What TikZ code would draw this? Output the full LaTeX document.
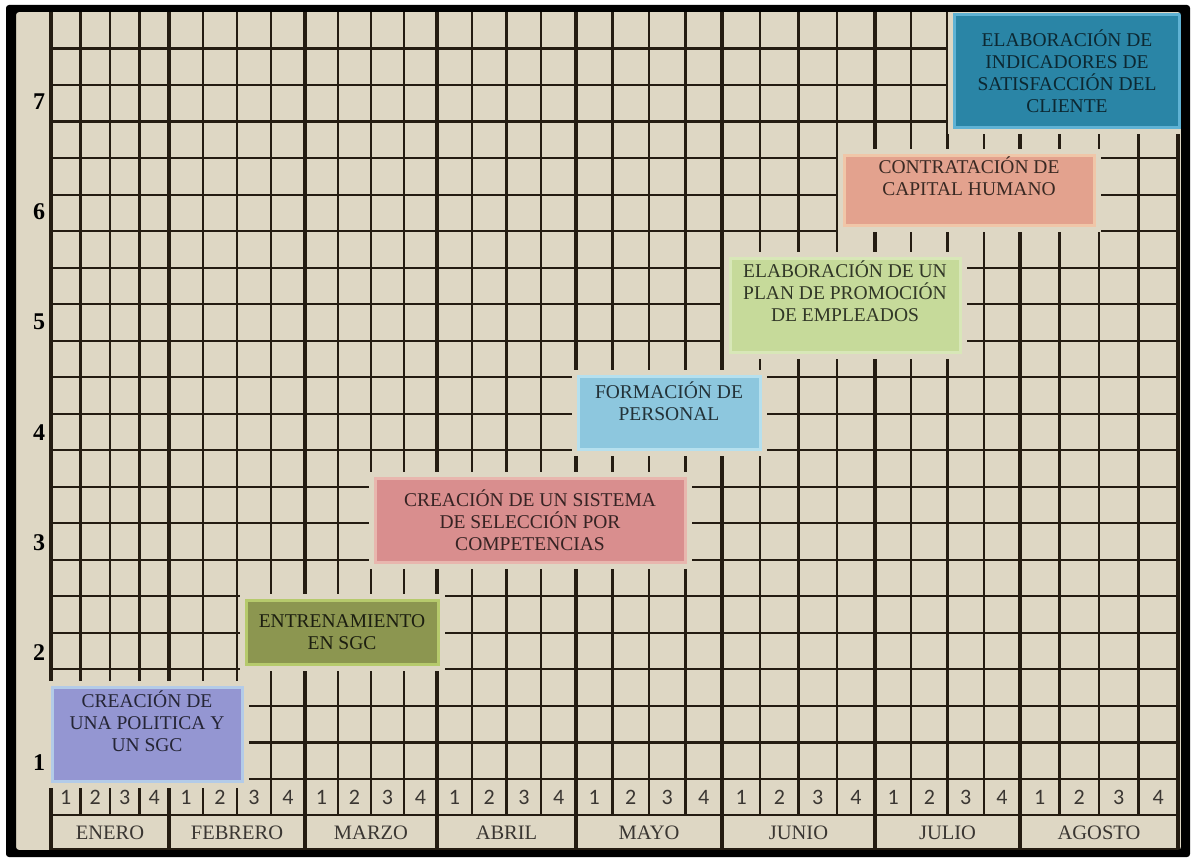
\documentclass[tikz,border=0pt]{standalone}
\usepackage{fontspec}
\setmainfont{Liberation Serif}
\newfontfamily\weekfont{Carlito}
\usepackage{tikz}
\definecolor{Paper}{HTML}{DED7C4}
\definecolor{Ink}{HTML}{241C12}
\definecolor{Digit}{HTML}{3A3632}
\definecolor{Lav}{HTML}{9496D2}
\definecolor{LavEdge}{HTML}{B3CBE8}
\definecolor{Olive}{HTML}{8C9650}
\definecolor{OliveEdge}{HTML}{B6CA6C}
\definecolor{Rose}{HTML}{D98E8E}
\definecolor{RoseEdge}{HTML}{E8B6AE}
\definecolor{Sky}{HTML}{8DC7DE}
\definecolor{SkyEdge}{HTML}{B6E0EE}
\definecolor{Lime}{HTML}{C6DA9A}
\definecolor{LimeEdge}{HTML}{D8E7B8}
\definecolor{Salmon}{HTML}{E3A28E}
\definecolor{SalmonEdge}{HTML}{F0C6A8}
\definecolor{Teal}{HTML}{2A85A6}
\definecolor{TealEdge}{HTML}{5FB2D4}

\begin{document}
\begin{tikzpicture}[x=1pt,y=-1pt,
  rowline/.style={draw=Ink,line width=2.2pt},
  weekline/.style={draw=Ink,line width=2.2pt},
  monthline/.style={draw=Ink,line width=3.4pt},
  task/.style={rectangle,line width=3pt,inner sep=0pt,align=center,
    font=\fontsize{19.5}{22}\selectfont,preaction={draw=Paper,line width=13pt}},
  weeklbl/.style={font=\weekfont\fontsize{22}{22}\selectfont,text=Digit},
  monthlbl/.style={font=\fontsize{20.5}{20.5}\selectfont,text=Digit},
  levellbl/.style={font=\bfseries\fontsize{24}{24}\selectfont}
]
  \useasboundingbox (0,0) rectangle (1193,859);
  \fill[white] (0,0) rectangle (1193,859);
  \fill[Paper] (16,12) rectangle (1181,850);

  % grid
  \foreach \k in {1,...,21}
    \draw[rowline] (51,{12+\k*36.52}) -- (1178,{12+\k*36.52});
  \draw[rowline] (51,815) -- (1178,815);
  \draw[rowline] (51,849) -- (1178,849);
  \foreach \a/\b/\m in {51/169/ENERO,169/305/FEBRERO,305/437/MARZO,437/576/ABRIL,
      576/722/MAYO,722/875/JUNIO,875/1020/JULIO,1020/1178/AGOSTO}{
    \foreach \j in {1,2,3}
      \draw[weekline] ({\a+\j*(\b-\a)/4},12) -- ({\a+\j*(\b-\a)/4},815);
    \foreach \j in {1,...,4}
      \node[weeklbl] (w\m\j) at ({\a+(\j-0.5)*(\b-\a)/4},797) {\j};
    \node[monthlbl] (m\m) at ({(\a+\b)/2},833) {\m};
    \draw[monthline] (\b,12) -- (\b,850);
  }
  \draw[monthline] (51,12) -- (51,850);

  % levels
  \foreach \n in {1,...,7}
    \node[levellbl] (lv\n) at (39,{763-(\n-1)*110.3}) {\n};

  % tasks
  \node[task,fill=Lav,draw=LavEdge,text=black!75!Lav,minimum width=190pt,minimum height=94pt]
    (politica) at (147,734) {CREACIÓN DE\\UNA POLITICA Y\\UN SGC\\[4pt]};
  \node[task,fill=Olive,draw=OliveEdge,text=black!80!Olive,minimum width=192pt,minimum height=64pt]
    (entrenamiento) at (342,632) {ENTRENAMIENTO\\EN SGC};
  \node[task,fill=Rose,draw=RoseEdge,text=black!75!Rose,minimum width=310pt,minimum height=84pt]
    (seleccion) at (530,520) {CREACIÓN DE UN SISTEMA\\DE SELECCIÓN POR\\COMPETENCIAS};
  \node[task,fill=Sky,draw=SkyEdge,text=black!75!Sky,minimum width=182pt,minimum height=73pt]
    (formacion) at (669,413) {FORMACIÓN DE\\PERSONAL\\[2pt]};
  \node[task,fill=Lime,draw=LimeEdge,text=black!75!Lime,minimum width=230pt,minimum height=94pt]
    (promocion) at (845,305) {ELABORACIÓN DE UN\\PLAN DE PROMOCIÓN\\DE EMPLEADOS\\[6pt]};
  \node[task,fill=Salmon,draw=SalmonEdge,text=black!75!Salmon,minimum width=250pt,minimum height=70pt]
    (contratacion) at (969,190) {CONTRATACIÓN DE\\CAPITAL HUMANO\\[6pt]};
  \node[task,fill=Teal,draw=TealEdge,text=black!70!Teal,minimum width=225pt,minimum height=113pt]
    (indicadores) at (1067,71) {ELABORACIÓN DE\\INDICADORES DE\\SATISFACCIÓN DEL\\CLIENTE};

  % frame
  \fill[black,even odd rule,rounded corners=3pt] (6,5) rectangle (1190,857) (16,12) rectangle (1181,850);
\end{tikzpicture}
\end{document}
